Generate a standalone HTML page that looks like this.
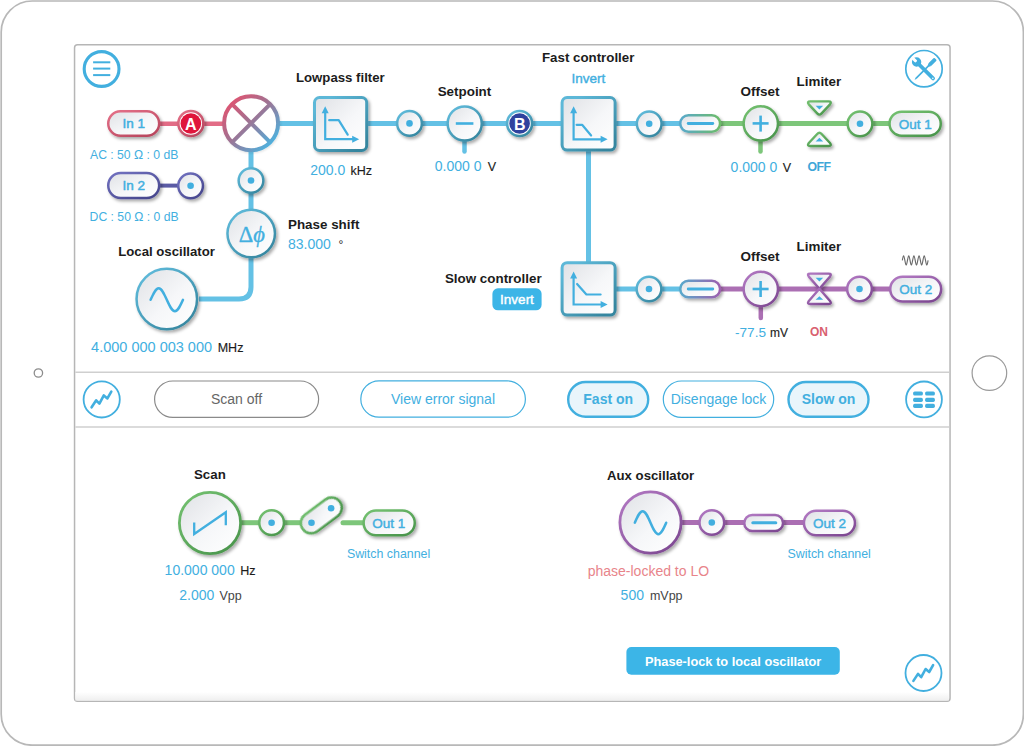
<!DOCTYPE html>
<html><head><meta charset="utf-8"><style>
html,body{margin:0;padding:0;background:#fff;}
svg{display:block;font-family:"Liberation Sans", sans-serif;}
</style></head><body>
<svg width="1024" height="746" viewBox="0 0 1024 746">
<defs>
<linearGradient id="fillg" x1="0" y1="0" x2="1" y2="1">
<stop offset="0" stop-color="#dfe1e5"/><stop offset="0.55" stop-color="#f6f7f9"/><stop offset="1" stop-color="#ffffff"/></linearGradient>
<linearGradient id="mixg" gradientUnits="userSpaceOnUse" x1="228" y1="100" x2="274" y2="146">
<stop offset="0" stop-color="#e4526f"/><stop offset="0.45" stop-color="#a07292"/><stop offset="1" stop-color="#47b6e4"/></linearGradient>
<linearGradient id="bgg" x1="0" y1="0" x2="1" y2="0">
<stop offset="0" stop-color="#58a9cc"/><stop offset="1" stop-color="#6dbb69"/></linearGradient>
<linearGradient id="bgv" x1="0" y1="0" x2="1" y2="0">
<stop offset="0" stop-color="#58a9cc"/><stop offset="1" stop-color="#9c5fae"/></linearGradient>
<linearGradient id="gb" x1="0.15" y1="0.1" x2="0.85" y2="0.95"><stop offset="0" stop-color="#5db8d8"/><stop offset="1" stop-color="#36869f"/></linearGradient><linearGradient id="gp" x1="0.15" y1="0.1" x2="0.85" y2="0.95"><stop offset="0" stop-color="#e06c84"/><stop offset="1" stop-color="#b9475f"/></linearGradient><linearGradient id="gu" x1="0.15" y1="0.1" x2="0.85" y2="0.95"><stop offset="0" stop-color="#6d6dbb"/><stop offset="1" stop-color="#47478e"/></linearGradient><linearGradient id="gg" x1="0.15" y1="0.1" x2="0.85" y2="0.95"><stop offset="0" stop-color="#70bd6d"/><stop offset="1" stop-color="#4b964d"/></linearGradient><linearGradient id="gv" x1="0.15" y1="0.1" x2="0.85" y2="0.95"><stop offset="0" stop-color="#ad74be"/><stop offset="1" stop-color="#7f4a93"/></linearGradient>
<linearGradient id="btm" x1="0" y1="0" x2="0" y2="1"><stop offset="0" stop-color="#fff"/><stop offset="1" stop-color="#efefef"/></linearGradient>
<filter id="sh" x="-30%" y="-30%" width="170%" height="170%">
<feDropShadow dx="1.8" dy="2.2" stdDeviation="1.5" flood-color="#000" flood-opacity="0.33"/></filter>
<filter id="sh2" x="-30%" y="-30%" width="170%" height="170%">
<feDropShadow dx="0.8" dy="1" stdDeviation="0.8" flood-color="#000" flood-opacity="0.12"/></filter>
</defs>
<rect x="1.2" y="1" width="1022.2" height="744.2" rx="31" fill="#fff" stroke="#b8b8b8" stroke-width="1.7"/>
<circle cx="38.4" cy="373" r="4.2" fill="none" stroke="#8c8c8c" stroke-width="1.3"/>
<circle cx="989.4" cy="373.1" r="17.3" fill="none" stroke="#9a9a9a" stroke-width="1.2"/>
<rect x="74.55" y="44.7" width="875.5" height="656.6" rx="3" fill="#fff" stroke="#b6b6b6" stroke-width="1.5"/>
<rect x="75.4" y="692" width="873.4" height="8.6" fill="url(#btm)"/>
<line x1="75.3" y1="372.2" x2="949" y2="372.2" stroke="#cfcfcf" stroke-width="1.5"/>
<line x1="75.3" y1="427" x2="949" y2="427" stroke="#cfcfcf" stroke-width="1.5"/>
<circle cx="101.6" cy="69" r="17.4" fill="none" stroke="#42afdf" stroke-width="3.1"/>
<line x1="93.1" y1="62.3" x2="110.3" y2="62.3" stroke="#42afdf" stroke-width="2.0" stroke-linecap="butt"/>
<line x1="93.1" y1="68.6" x2="110.3" y2="68.6" stroke="#42afdf" stroke-width="2.0" stroke-linecap="butt"/>
<line x1="93.1" y1="75.1" x2="110.3" y2="75.1" stroke="#42afdf" stroke-width="2.0" stroke-linecap="butt"/>
<circle cx="924" cy="68.7" r="18.2" fill="none" stroke="#42afdf" stroke-width="1.7"/>
<g transform="translate(923.8 69.2) rotate(-45)" fill="#42afdf"><circle cx="0" cy="-10.2" r="4.7"/><rect x="-1.9" y="-10" width="3.8" height="25" rx="1.9"/><rect x="-1.55" y="-16" width="3.1" height="5.6" rx="1.2" fill="#fff"/><circle cx="0" cy="12.8" r="0.75" fill="#fff"/></g>
<g transform="translate(925.2 69.2) rotate(45)" fill="#42afdf"><rect x="-1.9" y="-14.6" width="3.8" height="8.4" rx="1"/><path d="M-1.9 -6.6 H1.9 L0.85 -4.4 H-0.85 Z"/><rect x="-0.8" y="-5" width="1.6" height="18"/><path d="M-0.8 12.9 H0.8 L0 15 Z"/></g>
<line x1="160" y1="123.7" x2="224" y2="123.7" stroke="#e26c86" stroke-width="4.6" stroke-linecap="butt"/>
<line x1="279" y1="123.5" x2="314" y2="123.5" stroke="#64c1e5" stroke-width="5" stroke-linecap="butt"/>
<line x1="367" y1="123.5" x2="397" y2="123.5" stroke="#64c1e5" stroke-width="5" stroke-linecap="butt"/>
<line x1="422" y1="123.5" x2="447" y2="123.5" stroke="#64c1e5" stroke-width="5" stroke-linecap="butt"/>
<line x1="482" y1="123.5" x2="508" y2="123.5" stroke="#64c1e5" stroke-width="5" stroke-linecap="butt"/>
<line x1="532" y1="123.5" x2="562" y2="123.5" stroke="#64c1e5" stroke-width="5" stroke-linecap="butt"/>
<line x1="615" y1="123.5" x2="637" y2="123.5" stroke="#64c1e5" stroke-width="5" stroke-linecap="butt"/>
<line x1="661" y1="123.5" x2="681" y2="123.5" stroke="#64c1e5" stroke-width="5" stroke-linecap="butt"/>
<line x1="719" y1="123.5" x2="744" y2="123.5" stroke="#7dc67a" stroke-width="5" stroke-linecap="butt"/>
<line x1="778" y1="123.5" x2="848" y2="123.5" stroke="#7dc67a" stroke-width="5" stroke-linecap="butt"/>
<line x1="872" y1="123.5" x2="890" y2="123.5" stroke="#7dc67a" stroke-width="5" stroke-linecap="butt"/>
<line x1="464.5" y1="140" x2="464.5" y2="151.5" stroke="#64c1e5" stroke-width="4.5" stroke-linecap="round"/>
<line x1="760.5" y1="140" x2="760.5" y2="151.5" stroke="#7dc67a" stroke-width="4.5" stroke-linecap="round"/>
<line x1="588.5" y1="150" x2="588.5" y2="263" stroke="#64c1e5" stroke-width="5" stroke-linecap="butt"/>
<line x1="251" y1="150" x2="251" y2="170" stroke="#64c1e5" stroke-width="5" stroke-linecap="butt"/>
<line x1="251" y1="192" x2="251" y2="212" stroke="#64c1e5" stroke-width="5" stroke-linecap="butt"/>
<path d="M199 299 H239 Q251 299 251 287 V256" fill="none" stroke="#64c1e5" stroke-width="5"/>
<line x1="158" y1="185.6" x2="180" y2="185.6" stroke="#5b5ba5" stroke-width="4" stroke-linecap="butt"/>
<line x1="615" y1="289" x2="637" y2="289" stroke="#64c1e5" stroke-width="5" stroke-linecap="butt"/>
<line x1="661" y1="289" x2="681" y2="289" stroke="#64c1e5" stroke-width="5" stroke-linecap="butt"/>
<line x1="719" y1="289" x2="744" y2="289" stroke="#ab6fb3" stroke-width="5" stroke-linecap="butt"/>
<line x1="778" y1="289" x2="848" y2="289" stroke="#ab6fb3" stroke-width="5" stroke-linecap="butt"/>
<line x1="871" y1="289" x2="890" y2="289" stroke="#ab6fb3" stroke-width="5" stroke-linecap="butt"/>
<line x1="760.8" y1="306" x2="760.8" y2="318" stroke="#ab6fb3" stroke-width="4.5" stroke-linecap="round"/>
<rect x="108.25" y="111.25" width="50.900000000000006" height="24.5" rx="12.25" fill="url(#fillg)" stroke="url(#gp)" stroke-width="2.5" filter="url(#sh)"/>
<text x="133.8" y="128.3" font-size="13.5" fill="#42afdf" font-weight="400" text-anchor="middle" stroke="#42afdf" stroke-width="0.5">In 1</text>
 <circle cx="190.85" cy="123.5" r="12.5" fill="#fff" stroke="url(#gp)" stroke-width="2.6" filter="url(#sh)"/>
<circle cx="190.85" cy="123.5" r="10.3" fill="#df163c"/>
<text x="190.85" y="129.8" font-size="16" fill="#fff" font-weight="700" text-anchor="middle">A</text>
<g filter="url(#sh2)"><circle cx="251.1" cy="123.3" r="27" fill="#fff" stroke="url(#mixg)" stroke-width="4"/><path d="M232.0 104.2 L270.2 142.4 M270.2 104.2 L232.0 142.4" stroke="url(#mixg)" stroke-width="4"/></g>
<circle cx="251" cy="180.5" r="12.35" fill="url(#fillg)" stroke="url(#gb)" stroke-width="2.5" filter="url(#sh)"/>
<circle cx="251" cy="180.5" r="3.3" fill="#42afdf"/>
<circle cx="251.2" cy="233.6" r="23.75" fill="url(#fillg)" stroke="url(#gb)" stroke-width="2.5" filter="url(#sh)"/>
<text x="251.8" y="241.8" font-size="22.5" fill="#42afdf" stroke="#42afdf" stroke-width="0.35" font-family="Liberation Serif" text-anchor="middle">&#916;<tspan font-style="italic">&#981;</tspan></text>
<circle cx="166.8" cy="299" r="30.25" fill="url(#fillg)" stroke="url(#gb)" stroke-width="2.5" filter="url(#sh)"/>
<path d="M150.6 299.8 C153.24 293.91 155.77 288.30 158.70 288.30 C161.63 288.30 164.16 293.91 166.80 299.8 C169.44 305.69 171.97 311.30 174.90 311.30 C177.83 311.30 180.36 305.69 183.00 299.8" fill="none" stroke="#42afdf" stroke-width="2.5" stroke-linecap="round"/>
<rect x="108.25" y="173.05" width="50.900000000000006" height="24.899999999999977" rx="12.449999999999989" fill="url(#fillg)" stroke="url(#gu)" stroke-width="2.5" filter="url(#sh)"/>
<text x="133.8" y="190.4" font-size="13.5" fill="#42afdf" font-weight="400" text-anchor="middle" stroke="#42afdf" stroke-width="0.5">In 2</text>
<circle cx="190.6" cy="185.8" r="12.35" fill="url(#fillg)" stroke="url(#gu)" stroke-width="2.5" filter="url(#sh)"/>
<circle cx="190.6" cy="185.8" r="3.3" fill="#42afdf"/>
<rect x="314.5" y="97.5" width="52.19999999999999" height="53" rx="5" fill="url(#fillg)" stroke="url(#gb)" stroke-width="3" filter="url(#sh)"/>
<path d="M325.2 110.19999999999999 V139.2 H355.2" fill="none" stroke="#42afdf" stroke-width="2.2"/>
<path d="M321.7 113.19999999999999 L325.2 106.19999999999999 L328.7 113.19999999999999 Z" fill="#42afdf"/>
<path d="M352.2 135.7 L359.2 139.2 L352.2 142.7 Z" fill="#42afdf"/>
<path d="M329.2 120.19999999999999 H338.7 L347.7 134.7" fill="none" stroke="#42afdf" stroke-width="2.2" stroke-linecap="round" stroke-linejoin="round"/>
<circle cx="409.5" cy="123.4" r="12.35" fill="url(#fillg)" stroke="url(#gb)" stroke-width="2.5" filter="url(#sh)"/>
<circle cx="409.5" cy="123.4" r="3.3" fill="#42afdf"/>
<circle cx="464.7" cy="123.5" r="17.05" fill="url(#fillg)" stroke="url(#gb)" stroke-width="2.5" filter="url(#sh)"/>
<line x1="455.8" y1="123.5" x2="473.4" y2="123.5" stroke="#42afdf" stroke-width="2.6" stroke-linecap="butt"/>
 <circle cx="519.6" cy="123.5" r="12.5" fill="#fff" stroke="url(#gb)" stroke-width="2.6" filter="url(#sh)"/>
<circle cx="519.6" cy="123.5" r="10.3" fill="#2e429e"/>
<text x="519.9" y="130.3" font-size="16" fill="#fff" font-weight="700" text-anchor="middle">B</text>
<rect x="562.1" y="97.5" width="53.0" height="52.599999999999994" rx="5" fill="url(#fillg)" stroke="url(#gb)" stroke-width="3" filter="url(#sh)"/>
<path d="M573.6 110.30000000000001 V139.3 H603.6" fill="none" stroke="#42afdf" stroke-width="2.2"/>
<path d="M570.1 113.30000000000001 L573.6 106.30000000000001 L577.1 113.30000000000001 Z" fill="#42afdf"/>
<path d="M600.6 135.8 L607.6 139.3 L600.6 142.8 Z" fill="#42afdf"/>
<path d="M576.6 124.80000000000001 H582.1 L591.1 135.5" fill="none" stroke="#42afdf" stroke-width="2.2" stroke-linecap="round" stroke-linejoin="round"/>
<circle cx="649.2" cy="123.8" r="12.35" fill="url(#fillg)" stroke="url(#gb)" stroke-width="2.5" filter="url(#sh)"/>
<circle cx="649.2" cy="123.8" r="3.3" fill="#42afdf"/>
<rect x="680.25" y="115.25" width="39.799999999999955" height="16.5" rx="8.25" fill="url(#fillg)" stroke="url(#bgg)" stroke-width="2.5" filter="url(#sh)"/>
<line x1="688.2" y1="123.5" x2="712.8" y2="123.5" stroke="#42afdf" stroke-width="2.8" stroke-linecap="round"/>
<circle cx="760.8" cy="123.4" r="17.15" fill="url(#fillg)" stroke="url(#gg)" stroke-width="2.5" filter="url(#sh)"/>
<line x1="752.6" y1="123.4" x2="768.6" y2="123.4" stroke="#42afdf" stroke-width="2.6" stroke-linecap="butt"/>
<line x1="760.6" y1="115.6" x2="760.6" y2="131.6" stroke="#42afdf" stroke-width="2.6" stroke-linecap="butt"/>
<path d="M810.2 101.4 H828.6 Q832.2 101.4 830 104.4 L821.6 113.4 Q819.4 115.8 817.2 113.4 L808.8 104.4 Q806.6 101.4 810.2 101.4 Z" fill="url(#fillg)" stroke="url(#gg)" stroke-width="2.4" stroke-linejoin="round" filter="url(#sh)"/>
<path d="M815.6 105.8 H823.2 L819.4 109.6 Z" fill="#42afdf"/>
<path d="M810.2 146.0 H828.6 Q832.2 146.0 830 143.0 L821.6 134.0 Q819.4 131.6 817.2 134.0 L808.8 143.0 Q806.6 146.0 810.2 146.0 Z" fill="url(#fillg)" stroke="url(#gg)" stroke-width="2.4" stroke-linejoin="round" filter="url(#sh)"/>
<path d="M815.6 141.6 H823.2 L819.4 137.8 Z" fill="#42afdf"/>
<circle cx="860" cy="123.8" r="12.35" fill="url(#fillg)" stroke="url(#gg)" stroke-width="2.5" filter="url(#sh)"/>
<circle cx="860" cy="123.8" r="3.3" fill="#42afdf"/>
<rect x="889.55" y="111.65" width="51.200000000000045" height="24.099999999999994" rx="12.049999999999997" fill="url(#fillg)" stroke="url(#gg)" stroke-width="2.5" filter="url(#sh)"/>
<text x="915.2" y="128.6" font-size="13.5" fill="#42afdf" font-weight="400" text-anchor="middle" stroke="#42afdf" stroke-width="0.45">Out 1</text>
<rect x="562.1" y="262.7" width="53.0" height="52.400000000000034" rx="5" fill="url(#fillg)" stroke="url(#gb)" stroke-width="3" filter="url(#sh)"/>
<path d="M573.6 275.5 V304.5 H603.6" fill="none" stroke="#42afdf" stroke-width="2.2"/>
<path d="M570.1 278.5 L573.6 271.5 L577.1 278.5 Z" fill="#42afdf"/>
<path d="M600.6 301.0 L607.6 304.5 L600.6 308.0 Z" fill="#42afdf"/>
<path d="M577.1 284.0 L586.4 294.5 H600.6" fill="none" stroke="#42afdf" stroke-width="2.2" stroke-linecap="round" stroke-linejoin="round"/>
<circle cx="649" cy="289" r="12.35" fill="url(#fillg)" stroke="url(#gb)" stroke-width="2.5" filter="url(#sh)"/>
<circle cx="649" cy="289" r="3.3" fill="#42afdf"/>
<rect x="680.25" y="280.75" width="39.799999999999955" height="16.5" rx="8.25" fill="url(#fillg)" stroke="url(#bgv)" stroke-width="2.5" filter="url(#sh)"/>
<line x1="688.2" y1="289" x2="712.8" y2="289" stroke="#42afdf" stroke-width="2.8" stroke-linecap="round"/>
<circle cx="760.8" cy="289" r="17.15" fill="url(#fillg)" stroke="url(#gv)" stroke-width="2.5" filter="url(#sh)"/>
<line x1="752.6" y1="289" x2="768.6" y2="289" stroke="#42afdf" stroke-width="2.6" stroke-linecap="butt"/>
<line x1="760.6" y1="281" x2="760.6" y2="297" stroke="#42afdf" stroke-width="2.6" stroke-linecap="butt"/>
<path d="M810.2 273.6 H828.6 Q832.2 273.6 830 276.6 L819.4 288.8 L808.8 276.6 Q806.6 273.6 810.2 273.6 Z" fill="url(#fillg)" stroke="url(#gv)" stroke-width="2.4" stroke-linejoin="round" filter="url(#sh)"/>
<path d="M810.2 304 H828.6 Q832.2 304 830 301 L819.4 288.8 L808.8 301 Q806.6 304 810.2 304 Z" fill="url(#fillg)" stroke="url(#gv)" stroke-width="2.4" stroke-linejoin="round" filter="url(#sh)"/>
<path d="M815.6 277.8 H823.2 L819.4 281.4 Z" fill="#42afdf"/>
<path d="M815.6 299.8 H823.2 L819.4 296.2 Z" fill="#42afdf"/>
<circle cx="859.5" cy="289" r="12.35" fill="url(#fillg)" stroke="url(#gv)" stroke-width="2.5" filter="url(#sh)"/>
<circle cx="859.5" cy="289" r="3.3" fill="#42afdf"/>
<rect x="890.25" y="276.85" width="50.89999999999998" height="24.69999999999999" rx="12.349999999999994" fill="url(#fillg)" stroke="url(#gv)" stroke-width="2.5" filter="url(#sh)"/>
<text x="915.7" y="294.2" font-size="13.5" fill="#42afdf" font-weight="400" text-anchor="middle" stroke="#42afdf" stroke-width="0.45">Out 2</text>
<path d="M902.30 260.4 C902.72 257.99 903.12 255.70 903.59 255.70 C904.06 255.70 904.46 257.99 904.88 260.4 C905.30 262.81 905.70 265.10 906.17 265.10 C906.64 265.10 907.04 262.81 907.46 260.4 C907.88 257.99 908.28 255.70 908.75 255.70 C909.22 255.70 909.62 257.99 910.04 260.4 C910.46 262.81 910.86 265.10 911.33 265.10 C911.80 265.10 912.20 262.81 912.62 260.4 C913.04 257.99 913.44 255.70 913.91 255.70 C914.38 255.70 914.78 257.99 915.20 260.4 C915.62 262.81 916.02 265.10 916.49 265.10 C916.96 265.10 917.36 262.81 917.78 260.4 C918.20 257.99 918.60 255.70 919.07 255.70 C919.54 255.70 919.94 257.99 920.36 260.4 C920.78 262.81 921.18 265.10 921.65 265.10 C922.12 265.10 922.52 262.81 922.94 260.4 C923.36 257.99 923.76 255.70 924.23 255.70 C924.70 255.70 925.10 257.99 925.52 260.4 C925.94 262.81 926.34 265.10 926.81 265.10 C927.28 265.10 927.68 262.81 928.10 260.4" fill="none" stroke="#6a6a6a" stroke-width="1.15"/>
<rect x="492.4" y="288.3" width="49.2" height="22" rx="5.5" fill="#3cb5e7"/>
<text x="517" y="304" font-size="13.5" fill="#fff" font-weight="400" text-anchor="middle" stroke="#fff" stroke-width="0.4">Invert</text>
<text x="296" y="81.7" font-size="13.2" fill="#1c1c1c" font-weight="700">Lowpass filter</text>
<text x="310.2" y="175" font-size="14" fill="#42afdf" font-weight="400">200.0</text>
<text x="350.4" y="175" font-size="12.5" fill="#1c1c1c" font-weight="400" stroke="#1c1c1c" stroke-width="0.15">kHz</text>
<text x="437.7" y="96.3" font-size="13.4" fill="#1c1c1c" font-weight="700">Setpoint</text>
<text x="434.8" y="171.3" font-size="14" fill="#42afdf" font-weight="400">0.000 0</text>
<text x="487.8" y="171.3" font-size="12.5" fill="#1c1c1c" font-weight="400" stroke="#1c1c1c" stroke-width="0.15">V</text>
<text x="542" y="62" font-size="13.3" fill="#1c1c1c" font-weight="700">Fast controller</text>
<text x="588.3" y="82.5" font-size="13.5" fill="#42afdf" font-weight="400" text-anchor="middle" stroke="#42afdf" stroke-width="0.4">Invert</text>
<text x="740.5" y="96.4" font-size="13.5" fill="#1c1c1c" font-weight="700">Offset</text>
<text x="730.6" y="171.5" font-size="14" fill="#42afdf" font-weight="400">0.000 0</text>
<text x="782.7" y="171.5" font-size="12.5" fill="#1c1c1c" font-weight="400" stroke="#1c1c1c" stroke-width="0.15">V</text>
<text x="796.6" y="85.8" font-size="13.4" fill="#1c1c1c" font-weight="700">Limiter</text>
<text x="818.9" y="171.1" font-size="12.3" fill="#3da6d8" font-weight="700" text-anchor="middle" letter-spacing="-0.6">OFF</text>
<text x="90" y="159" font-size="12.2" fill="#42afdf" font-weight="400">AC : 50 &#937; : 0 dB</text>
<text x="89.6" y="221.4" font-size="12.2" fill="#42afdf" font-weight="400">DC : 50 &#937; : 0 dB</text>
<text x="288" y="228.8" font-size="13.4" fill="#1c1c1c" font-weight="700">Phase shift</text>
<text x="288" y="249.3" font-size="14" fill="#42afdf" font-weight="400">83.000</text>
<text x="338.5" y="249.3" font-size="12" fill="#1c1c1c" font-weight="400">&#176;</text>
<text x="118.2" y="255.5" font-size="13.2" fill="#1c1c1c" font-weight="700">Local oscillator</text>
<text x="91.1" y="352.4" font-size="14.5" fill="#42afdf" font-weight="400">4.000 000 003 000</text>
<text x="217.7" y="352.4" font-size="12.5" fill="#1c1c1c" font-weight="400" stroke="#1c1c1c" stroke-width="0.15">MHz</text>
<text x="444.9" y="283" font-size="13.4" fill="#1c1c1c" font-weight="700">Slow controller</text>
<text x="740.5" y="260.5" font-size="13.5" fill="#1c1c1c" font-weight="700">Offset</text>
<text x="796.6" y="250.6" font-size="13.4" fill="#1c1c1c" font-weight="700">Limiter</text>
<text x="735" y="336.6" font-size="13.6" fill="#42afdf" font-weight="400">-77.5</text>
<text x="770" y="336.6" font-size="12" fill="#1c1c1c" font-weight="400" stroke="#1c1c1c" stroke-width="0.15">mV</text>
<text x="818.8" y="336.4" font-size="12" fill="#d9606f" font-weight="700" text-anchor="middle" letter-spacing="-0.3">ON</text>
<circle cx="101.7" cy="399.4" r="18.1" fill="none" stroke="#42afdf" stroke-width="1.8"/>
<path d="M91.6 407.3 L96.2 400.3 L99.4 403.6 L103.8 395.4 L107.4 398.4 L111.3 391.6" fill="none" stroke="#42afdf" stroke-width="2.6" stroke-linecap="round" stroke-linejoin="round"/>
<rect x="154.6" y="381" width="164" height="36.4" rx="18.2" fill="#fff" stroke="#8a8a8a" stroke-width="1.2"/>
<text x="236.5" y="404.3" font-size="14" fill="#666" font-weight="400" text-anchor="middle">Scan off</text>
<rect x="360.8" y="380.8" width="164.6" height="36.4" rx="18.2" fill="#fff" stroke="#42afdf" stroke-width="1.2"/>
<text x="443" y="404.3" font-size="14" fill="#42afdf" font-weight="400" text-anchor="middle">View error signal</text>
<rect x="568.2" y="382" width="80" height="34.8" rx="17.4" fill="#e9f5fb" stroke="#42afdf" stroke-width="2.4"/>
<text x="608.2" y="404.3" font-size="14" fill="#42afdf" font-weight="700" text-anchor="middle">Fast on</text>
<rect x="663.3" y="381" width="110.4" height="36.4" rx="18.2" fill="#fff" stroke="#42afdf" stroke-width="1.2"/>
<text x="718.5" y="404.3" font-size="14" fill="#42afdf" font-weight="400" text-anchor="middle">Disengage lock</text>
<rect x="788.5" y="382" width="80" height="34.8" rx="17.4" fill="#e9f5fb" stroke="#42afdf" stroke-width="2.4"/>
<text x="828.5" y="404.3" font-size="14" fill="#42afdf" font-weight="700" text-anchor="middle">Slow on</text>
<circle cx="924" cy="399.4" r="17.9" fill="none" stroke="#42afdf" stroke-width="1.8"/>
<rect x="913.1" y="391.4" width="9.8" height="4.1" rx="1.6" fill="#42afdf"/>
<rect x="925.1" y="391.4" width="9.8" height="4.1" rx="1.6" fill="#42afdf"/>
<rect x="913.1" y="397.8" width="9.8" height="4.1" rx="1.6" fill="#42afdf"/>
<rect x="925.1" y="397.8" width="9.8" height="4.1" rx="1.6" fill="#42afdf"/>
<rect x="913.1" y="403.8" width="9.8" height="4.1" rx="1.6" fill="#42afdf"/>
<rect x="925.1" y="403.8" width="9.8" height="4.1" rx="1.6" fill="#42afdf"/>
<text x="194" y="479.3" font-size="13.3" fill="#1c1c1c" font-weight="700">Scan</text>
<line x1="240" y1="522.7" x2="260" y2="522.7" stroke="#7dc67a" stroke-width="5" stroke-linecap="butt"/>
<line x1="283" y1="522.7" x2="304" y2="522.7" stroke="#7dc67a" stroke-width="5" stroke-linecap="butt"/>
<line x1="343" y1="522.7" x2="364" y2="522.7" stroke="#7dc67a" stroke-width="5" stroke-linecap="round"/>
<circle cx="210" cy="523" r="30.6" fill="url(#fillg)" stroke="url(#gg)" stroke-width="2.8" filter="url(#sh)"/>
<path d="M194.2 522.6 V534 L225.8 512.2 V525.2" fill="none" stroke="#42afdf" stroke-width="2.3" stroke-linejoin="miter"/>
<circle cx="271.6" cy="522.7" r="12.35" fill="url(#fillg)" stroke="url(#gg)" stroke-width="2.5" filter="url(#sh)"/>
<circle cx="271.6" cy="522.7" r="3.3" fill="#42afdf"/>
<g transform="rotate(-36.7 321.3 515.4)"><rect x="298.3" y="505.09999999999997" width="46" height="20.6" rx="10.3" fill="url(#fillg)" stroke="url(#gg)" stroke-width="2.6" filter="url(#sh)"/></g><circle cx="311.5" cy="522.8" r="3.3" fill="#42afdf"/><circle cx="331.1" cy="508.2" r="3.3" fill="#42afdf"/>
<rect x="363.65" y="510.55" width="51.10000000000002" height="24.69999999999999" rx="12.349999999999994" fill="url(#fillg)" stroke="url(#gg)" stroke-width="2.5" filter="url(#sh)"/>
<text x="388.8" y="528.2" font-size="13.5" fill="#42afdf" font-weight="400" text-anchor="middle" stroke="#42afdf" stroke-width="0.45">Out 1</text>
<text x="346.9" y="557.8" font-size="12.4" fill="#42afdf" font-weight="400">Switch channel</text>
<text x="164.6" y="575.4" font-size="14" fill="#42afdf" font-weight="400">10.000 000</text>
<text x="240.2" y="575.4" font-size="12.5" fill="#1c1c1c" font-weight="400" stroke="#1c1c1c" stroke-width="0.15">Hz</text>
<text x="179.3" y="600" font-size="14" fill="#42afdf" font-weight="400">2.000</text>
<text x="219.4" y="600" font-size="12.5" fill="#444" font-weight="400">Vpp</text>
<text x="607" y="479.6" font-size="13.2" fill="#1c1c1c" font-weight="700">Aux oscillator</text>
<line x1="681" y1="522.5" x2="700" y2="522.5" stroke="#ab6fb3" stroke-width="5" stroke-linecap="butt"/>
<line x1="723" y1="522.5" x2="745" y2="522.5" stroke="#ab6fb3" stroke-width="5" stroke-linecap="butt"/>
<line x1="782" y1="522.5" x2="804" y2="522.5" stroke="#ab6fb3" stroke-width="5" stroke-linecap="butt"/>
<circle cx="650.5" cy="522.5" r="30.6" fill="url(#fillg)" stroke="url(#gv)" stroke-width="2.8" filter="url(#sh)"/>
<path d="M634.8 522.7 C637.36 516.81 639.81 511.20 642.65 511.20 C645.49 511.20 647.94 516.81 650.50 522.7 C653.06 528.59 655.51 534.20 658.35 534.20 C661.19 534.20 663.64 528.59 666.20 522.7" fill="none" stroke="#42afdf" stroke-width="2.5" stroke-linecap="round"/>
<circle cx="711.8" cy="522.5" r="12.35" fill="url(#fillg)" stroke="url(#gv)" stroke-width="2.5" filter="url(#sh)"/>
<circle cx="711.8" cy="522.5" r="3.3" fill="#42afdf"/>
<rect x="744.25" y="515.05" width="38.799999999999955" height="15.900000000000091" rx="7.9500000000000455" fill="url(#fillg)" stroke="url(#gv)" stroke-width="2.5" filter="url(#sh)"/>
<line x1="752.8" y1="522.8" x2="775.8" y2="522.8" stroke="#42afdf" stroke-width="3" stroke-linecap="round"/>
<rect x="803.95" y="510.85" width="51.0" height="24.299999999999955" rx="12.149999999999977" fill="url(#fillg)" stroke="url(#gv)" stroke-width="2.5" filter="url(#sh)"/>
<text x="829.5" y="528.2" font-size="13.5" fill="#42afdf" font-weight="400" text-anchor="middle" stroke="#42afdf" stroke-width="0.45">Out 2</text>
<text x="787.5" y="558" font-size="12.4" fill="#42afdf" font-weight="400">Switch channel</text>
<text x="587.7" y="575.7" font-size="14" fill="#e8848a" font-weight="400">phase-locked to LO</text>
<text x="620.6" y="599.9" font-size="14" fill="#42afdf" font-weight="400">500</text>
<text x="649.9" y="599.9" font-size="12.5" fill="#444" font-weight="400">mVpp</text>
<rect x="626.4" y="647" width="213.4" height="27.7" rx="5" fill="#3cb5e7"/>
<text x="733.1" y="666" font-size="12.8" fill="#fff" font-weight="700" text-anchor="middle">Phase-lock to local oscillator</text>
<circle cx="923.5" cy="673" r="18" fill="none" stroke="#42afdf" stroke-width="1.8"/>
<path d="M913.4 680.9 L918 673.9 L921.2 677.2 L925.6 669 L929.2 672 L933.1 665.2" fill="none" stroke="#42afdf" stroke-width="2.6" stroke-linecap="round" stroke-linejoin="round"/>
</svg></body></html>
